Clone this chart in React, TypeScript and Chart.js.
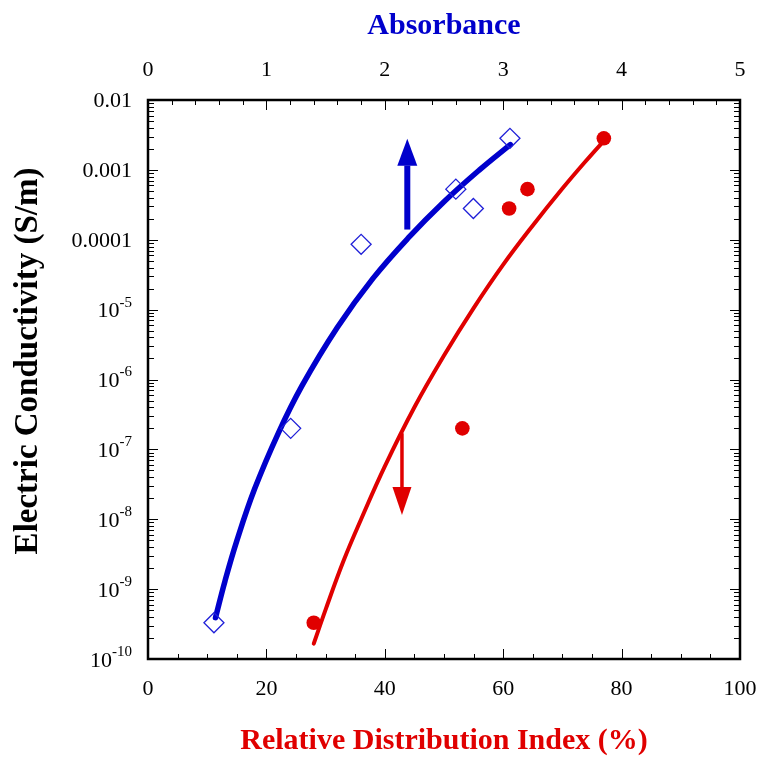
import React, { useEffect, useRef } from 'react';
import { Chart, registerables } from 'chart.js';

Chart.register(...registerables);

const FONT = '"Liberation Serif", "Times New Roman", serif';

// Measured points: Absorbance (top axis) vs conductivity
const absX = [0.557, 1.205, 1.8, 2.6, 2.748, 3.057];
const absCond = [3.3e-10, 2.0e-7, 8.6e-5, 5.3e-4, 2.8e-4, 2.83e-3];

// Measured points: Relative Distribution Index (bottom axis) vs conductivity
const rdiX = [28.0, 53.1, 61.0, 64.1, 77.0];
const rdiCond = [3.3e-10, 2.0e-7, 2.8e-4, 5.3e-4, 2.83e-3];

// Fit curve (blue, absorbance)
const absFitX = [0.57, 0.65, 0.75, 0.9, 1.1, 1.3, 1.6, 1.9, 2.2, 2.5, 2.8, 3.06];
const absFitCond = [3.9e-10, 1.3e-9, 4.9e-9, 2.7e-8, 1.7e-7, 8.1e-7, 5.6e-6, 2.8e-5, 1.07e-4, 3.5e-4, 1.0e-3, 2.3e-3];

// Fit curve (red, RDI)
const rdiFitX = [28.0, 30, 33, 36, 40, 45, 50, 55, 60, 65, 70, 74, 77.5];
const rdiFitCond = [1.66e-10, 5.1e-10, 2.5e-9, 1.0e-8, 5.7e-8, 4.0e-7, 2.2e-6, 1.05e-5, 4.4e-5, 1.6e-4, 5.4e-4, 1.35e-3, 2.9e-3];

// Arrows (start -> tip)
const arrowAbsX = [2.19, 2.19];
const arrowAbsCond = [1.4e-4, 2.8e-3];
const arrowRdiX = [42.9, 42.9];
const arrowRdiCond = [1.7e-7, 1.15e-8];

// Tick values
const rdiTicks = [0, 20, 40, 60, 80, 100];
const absTicks = [0, 1, 2, 3, 4, 5];
const condTicks = [1e-10, 1e-9, 1e-8, 1e-7, 1e-6, 1e-5, 1e-4, 1e-3, 1e-2];

const BLUE = '#0000cc';
const RED = '#e00000';

function pts(xs: number[], ys: number[]) {
  return xs.map((x, i) => ({ x, y: ys[i] }));
}

const decorPlugin = {
  id: 'decor',
  afterDatasetsDraw(chart: any) {
    const { ctx, scales } = chart;
    const { x, x2, y } = scales;
    const drawArrow = (px: number, y0: number, y1: number, color: string, shaft: number, headW: number, headL: number) => {
      const dir = y1 < y0 ? -1 : 1;
      ctx.save();
      ctx.strokeStyle = color;
      ctx.fillStyle = color;
      ctx.lineWidth = shaft;
      ctx.lineCap = 'butt';
      ctx.beginPath();
      ctx.moveTo(px, y0);
      ctx.lineTo(px, y1 - dir * headL);
      ctx.stroke();
      ctx.beginPath();
      ctx.moveTo(px, y1);
      ctx.lineTo(px - headW / 2, y1 - dir * headL);
      ctx.lineTo(px + headW / 2, y1 - dir * headL);
      ctx.closePath();
      ctx.fill();
      ctx.restore();
    };
    drawArrow(
      x2.getPixelForValue(arrowAbsX[0]),
      y.getPixelForValue(arrowAbsCond[0]),
      y.getPixelForValue(arrowAbsCond[1]),
      BLUE, 6, 20, 27
    );
    drawArrow(
      x.getPixelForValue(arrowRdiX[0]),
      y.getPixelForValue(arrowRdiCond[0]),
      y.getPixelForValue(arrowRdiCond[1]),
      RED, 3.5, 19, 28
    );
  },
  afterDraw(chart: any) {
    const { ctx, chartArea, scales } = chart;
    const { left, right, top, bottom } = chartArea;
    const { x, x2, y } = scales;
    ctx.save();
    ctx.strokeStyle = '#000';
    ctx.lineWidth = 1;
    ctx.beginPath();
    // bottom axis ticks
    for (let i = 0; i <= 20; i++) {
      const v = i * 5;
      const px = Math.round(x.getPixelForValue(v)) + 0.5;
      const len = v % 20 === 0 ? 10 : 5;
      ctx.moveTo(px, bottom);
      ctx.lineTo(px, bottom - len);
    }
    // top axis ticks
    for (let i = 0; i <= 25; i++) {
      const v = i * 0.2;
      const px = Math.round(x2.getPixelForValue(v)) + 0.5;
      const len = i % 5 === 0 ? 10 : 5;
      ctx.moveTo(px, top);
      ctx.lineTo(px, top + len);
    }
    // log ticks left & right
    for (let e = -10; e <= -3; e++) {
      for (let k = 1; k <= 9; k++) {
        const v = k * Math.pow(10, e);
        const py = Math.round(y.getPixelForValue(v)) + 0.5;
        const len = k === 1 ? 10 : 6;
        ctx.moveTo(left, py);
        ctx.lineTo(left + len, py);
        ctx.moveTo(right, py);
        ctx.lineTo(right - len, py);
      }
    }
    ctx.stroke();

    // frame
    ctx.lineWidth = 2.5;
    ctx.strokeRect(left, top, right - left, bottom - top);

    // y tick labels
    ctx.fillStyle = '#000';
    ctx.textAlign = 'right';
    ctx.textBaseline = 'middle';
    const lx = 132;
    condTicks.forEach((v) => {
      const py = y.getPixelForValue(v);
      const exp = Math.round(Math.log10(v));
      if (exp >= -4) {
        ctx.font = `22px ${FONT}`;
        ctx.fillText(String(v), lx, py + 1);
      } else {
        const sup = String(exp);
        ctx.font = `15px ${FONT}`;
        const w = ctx.measureText(sup).width;
        ctx.fillText(sup, lx, py - 7);
        ctx.font = `22px ${FONT}`;
        ctx.fillText('10', lx - w, py + 2);
      }
    });

    // left axis title
    ctx.save();
    ctx.translate(28, 361);
    ctx.rotate(-Math.PI / 2);
    ctx.textAlign = 'center';
    ctx.textBaseline = 'middle';
    ctx.font = `bold 33px ${FONT}`;
    ctx.fillStyle = '#000';
    ctx.fillText('Electric Conductivity (S/m)', 0, 0);
    ctx.restore();
    ctx.restore();
  },
};

export default function App() {
  const ref = useRef<HTMLCanvasElement>(null);
  useEffect(() => {
    if (!ref.current) return;
    const chart = new Chart(ref.current, {
      type: 'scatter',
      data: {
        datasets: [
          {
            label: 'Absorbance data',
            data: pts(absX, absCond),
            xAxisID: 'x2',
            yAxisID: 'y',
            showLine: false,
            pointStyle: 'rectRot',
            pointRadius: 10,
            pointBorderColor: '#2020d8',
            pointBackgroundColor: 'rgba(0,0,0,0)',
            pointBorderWidth: 1.3,
          },
          {
            label: 'RDI data',
            data: pts(rdiX, rdiCond),
            xAxisID: 'x',
            yAxisID: 'y',
            showLine: false,
            pointStyle: 'circle',
            pointRadius: 7.3,
            pointBorderWidth: 0,
            pointBackgroundColor: RED,
            pointBorderColor: RED,
          },
          {
            label: 'Absorbance fit',
            data: pts(absFitX, absFitCond),
            xAxisID: 'x2',
            yAxisID: 'y',
            showLine: true,
            pointRadius: 0,
            borderColor: BLUE,
            borderWidth: 5.5,
            borderCapStyle: 'round',
            tension: 0.4,
          },
          {
            label: 'RDI fit',
            data: pts(rdiFitX, rdiFitCond),
            xAxisID: 'x',
            yAxisID: 'y',
            showLine: true,
            pointRadius: 0,
            borderColor: RED,
            borderWidth: 4,
            borderCapStyle: 'round',
            tension: 0.4,
          },
        ],
      },
      options: {
        animation: false,
        responsive: false,
        layout: { padding: { left: 0, right: 22, top: 0, bottom: 0 } },
        plugins: { legend: { display: false }, tooltip: { enabled: false } },
        scales: {
          x: {
            type: 'linear',
            position: 'bottom',
            min: 0,
            max: 100,
            grid: { display: false, drawTicks: false },
            border: { display: false },
            afterBuildTicks: (s: any) => {
              s.ticks = rdiTicks.map((v) => ({ value: v }));
            },
            afterFit: (s: any) => {
              s.height = 98;
              s.paddingLeft = 0;
              s.paddingRight = 0;
            },
            ticks: {
              padding: 17,
              maxRotation: 0,
              color: '#000',
              font: { family: FONT, size: 22 },
              callback: (v: any) => String(v),
            },
            title: {
              display: true,
              text: 'Relative Distribution Index (%)',
              color: RED,
              font: { family: FONT, size: 30, weight: 'bold' },
              padding: { top: 0, bottom: -2 },
            },
          },
          x2: {
            type: 'linear',
            position: 'top',
            min: 0,
            max: 5,
            grid: { display: false, drawTicks: false },
            border: { display: false },
            afterBuildTicks: (s: any) => {
              s.ticks = absTicks.map((v) => ({ value: v }));
            },
            afterFit: (s: any) => {
              s.height = 100;
              s.paddingLeft = 0;
              s.paddingRight = 0;
            },
            ticks: {
              padding: 17,
              maxRotation: 0,
              color: '#000',
              font: { family: FONT, size: 22 },
              callback: (v: any) => String(v),
            },
            title: {
              display: true,
              text: 'Absorbance',
              color: BLUE,
              font: { family: FONT, size: 30, weight: 'bold' },
              padding: { top: 8, bottom: 0 },
            },
          },
          y: {
            type: 'logarithmic',
            position: 'left',
            min: 1e-10,
            max: 1e-2,
            grid: { display: false, drawTicks: false },
            border: { display: false },
            afterBuildTicks: (s: any) => {
              s.ticks = condTicks.map((v) => ({ value: v }));
            },
            afterFit: (s: any) => {
              s.width = 148;
            },
            ticks: { display: false },
          },
        },
      },
      plugins: [decorPlugin],
    } as any);
    return () => chart.destroy();
  }, []);

  return (
    <div style={{ position: 'fixed', left: 0, top: 0, width: 762, height: 757, background: '#fff' }}>
      <canvas ref={ref} width={762} height={757} style={{ display: 'block' }} />
    </div>
  );
}
